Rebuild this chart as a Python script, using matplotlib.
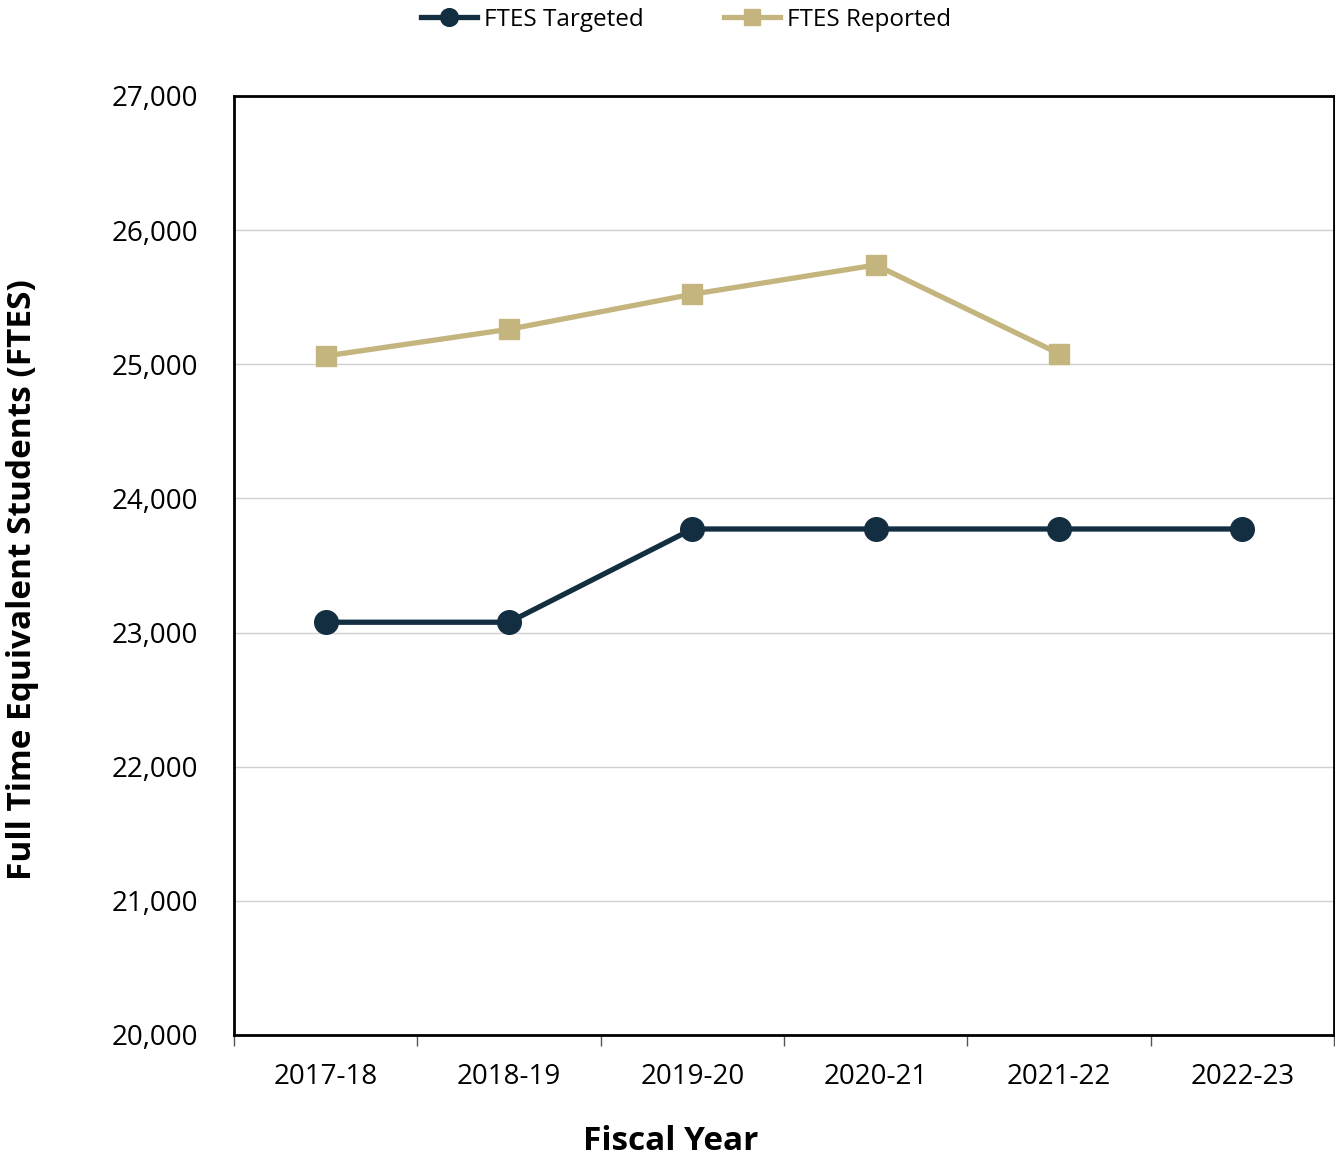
import matplotlib
matplotlib.use("Agg")
import matplotlib.pyplot as plt
import matplotlib.ticker as mticker

years = ["2017-18", "2018-19", "2019-20", "2020-21", "2021-22", "2022-23"]
targeted = [23077, 23077, 23772, 23772, 23772, 23772]
reported = [25062, 25261, 25522, 25740, 25079]

navy = "#132d41"
tan = "#c4b47e"

plt.rcParams['font.family'] = ['Open Sans', 'DejaVu Sans']

fig = plt.figure(figsize=(13.35, 11.62), dpi=100)
ax = fig.add_axes([0.1753, 0.1093, 0.8240, 0.8081])

x = list(range(len(years)))
ax.plot(x, targeted, color=navy, lw=3.8, marker='o', ms=17, label="FTES Targeted", zorder=3)
ax.plot(x[:len(reported)], reported, color=tan, lw=3.8, marker='s', ms=15, label="FTES Reported", zorder=3)

ax.set_xlim(-0.5, len(years) - 0.5)
ax.set_ylim(20000, 27000)
ax.yaxis.set_major_locator(mticker.MultipleLocator(1000))
ax.yaxis.set_major_formatter(mticker.FuncFormatter(lambda v, p: f"{int(v):,}"))
ax.grid(True, axis='y', color='#d0d0d0', lw=1)
ax.set_axisbelow(True)

ax.set_xticks(x)
ax.set_xticklabels(years)
ax.set_xticks([i - 0.5 for i in range(len(years) + 1)], minor=True)
ax.tick_params(axis='x', which='major', length=0, labelsize=20, pad=20)
ax.tick_params(axis='x', which='minor', length=8, width=1, color='#555555')
ax.tick_params(axis='y', length=0, labelsize=20, pad=26)

for s in ax.spines.values():
    s.set_linewidth(2)
    s.set_color('black')

fig.text(671 / 1335, 1 - 1142 / 1162, "Fiscal Year", fontsize=24, fontweight='bold',
         ha='center', va='center')
fig.text(23 / 1335, 1 - 580 / 1162, "Full Time Equivalent Students (FTES)", fontsize=24,
         fontweight='bold', rotation=90, ha='center', va='center')

fig.legend(loc='upper center', bbox_to_anchor=(0.514, 1.012), ncol=2, frameon=False,
           fontsize=17.5, handlelength=2.3, handletextpad=0.3, columnspacing=3.3,
           markerscale=0.75)

fig.savefig("out.png", dpi=100)
